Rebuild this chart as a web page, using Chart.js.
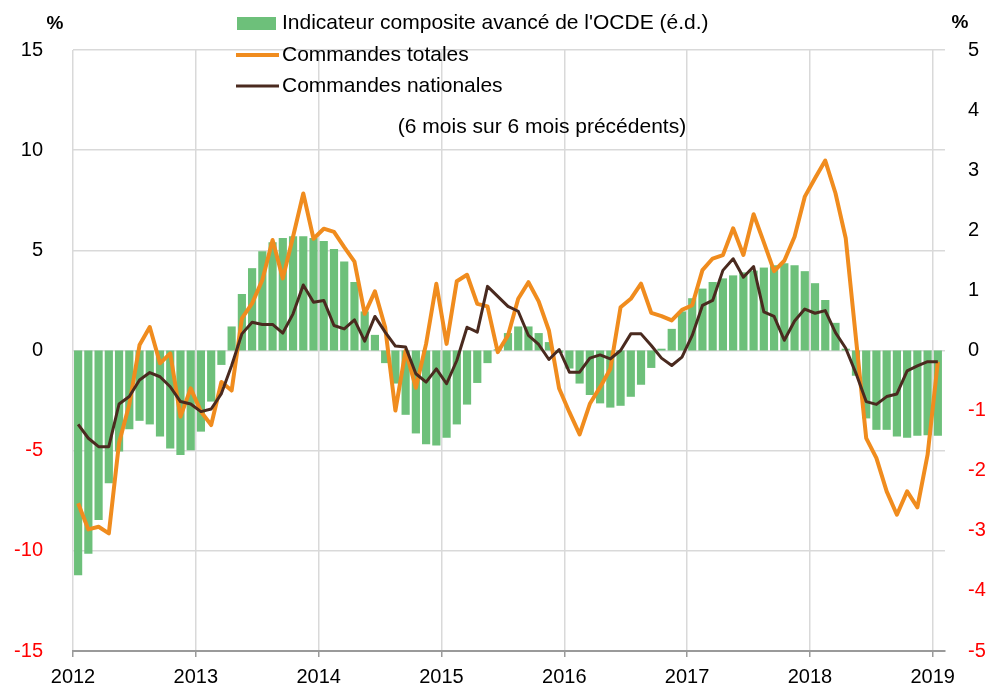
<!DOCTYPE html>
<html>
<head>
<meta charset="utf-8">
<script src="https://cdn.jsdelivr.net/npm/chart.js@4"></script>
<style>
  body { margin: 0; background: #fff; }
  #wrap { width: 989px; height: 695px; }
</style>
</head>
<body>
<div id="wrap"><canvas id="orders-chart" width="989" height="695"></canvas></div>
<script>
// Year labels on the x axis (one tick every 12 months, starting Jan 2012)
const yearLabels = ['2012', '2013', '2014', '2015', '2016', '2017', '2018', '2019'];

// OECD composite leading indicator, right scale (Jan 2012 .. Jan 2019)
const cliValues = [
  -3.74, -3.38, -2.82, -2.21, -1.68, -1.31, -1.17, -1.23, -1.43, -1.63, -1.74, -1.66,
  -1.35, -0.85, -0.24, 0.40, 0.94, 1.37, 1.65, 1.80, 1.87, 1.90, 1.90, 1.87,
  1.82, 1.69, 1.48, 1.14, 0.65, 0.26, -0.21, -0.55, -1.07, -1.38, -1.56, -1.58,
  -1.45, -1.23, -0.90, -0.54, -0.21, 0.02, 0.29, 0.40, 0.40, 0.29, 0.14, -0.04,
  -0.30, -0.55, -0.74, -0.88, -0.95, -0.92, -0.77, -0.57, -0.29, 0.03, 0.36, 0.65,
  0.87, 1.03, 1.14, 1.20, 1.25, 1.30, 1.33, 1.38, 1.42, 1.45, 1.42, 1.32,
  1.12, 0.84, 0.46, 0.03, -0.42, -1.13, -1.32, -1.32, -1.43, -1.45, -1.42, -1.41,
  -1.42
];

// Total orders, left scale
const totalOrders = [
  -7.63, -8.93, -8.80, -9.13, -4.60, -2.70, 0.27, 1.17, -0.64, -0.14, -3.30, -1.89,
  -3.05, -3.72, -1.57, -2.00, 1.60, 2.35, 3.52, 5.52, 3.60, 5.68, 7.84, 5.58,
  6.08, 5.92, 5.16, 4.44, 1.83, 2.95, 1.16, -3.00, 0.00, -1.86, 0.33, 3.33,
  0.33, 3.46, 3.78, 2.33, 2.20, -0.08, 0.75, 2.58, 3.41, 2.45, 1.00, -1.90,
  -3.08, -4.19, -2.66, -1.83, -0.92, 2.16, 2.58, 3.34, 1.88, 1.72, 1.50, 2.03,
  2.26, 4.01, 4.59, 4.76, 6.10, 4.77, 6.80, 5.40, 3.96, 4.48, 5.68, 7.68,
  8.60, 9.48, 7.85, 5.60, 0.60, -4.37, -5.37, -7.03, -8.20, -7.03, -7.83, -5.20,
  -0.56
];

// Domestic orders, left scale
const domesticOrders = [
  -3.69, -4.38, -4.80, -4.80, -2.67, -2.30, -1.47, -1.10, -1.31, -1.81, -2.55, -2.67,
  -3.05, -2.92, -2.15, -0.75, 0.83, 1.41, 1.30, 1.30, 0.87, 1.83, 3.27, 2.41,
  2.50, 1.25, 1.08, 1.53, 0.47, 1.70, 0.92, 0.22, 0.17, -1.16, -1.58, -0.92,
  -1.66, -0.50, 1.16, 0.92, 3.20, 2.70, 2.20, 1.96, 0.75, 0.30, -0.45, 0.05,
  -1.08, -1.08, -0.38, -0.22, -0.42, 0.00, 0.83, 0.83, 0.25, -0.38, -0.75, -0.33,
  0.75, 2.25, 2.50, 4.00, 4.58, 3.66, 4.19, 1.93, 1.70, 0.51, 1.47, 2.07,
  1.86, 1.99, 0.89, 0.11, -1.14, -2.55, -2.69, -2.30, -2.17, -1.02, -0.77, -0.56,
  -0.56
];

const seriesLabels = [
  "Indicateur composite avancé de l'OCDE (é.d.)",
  'Commandes totales',
  'Commandes nationales'
];
const subtitle = '(6 mois sur 6 mois précédents)';

// each month sits in the middle of its slot on a month-count axis
function toPoints(values) {
  return values.map((v, i) => ({ x: i + 0.5, y: v }));
}

const FONT = '"Liberation Sans", Arial, sans-serif';
const redIfNegative = ctx => (ctx.tick.value < 0 ? '#ff0000' : '#000000');

// Legend, units and subtitle drawn by hand, like the original layout
const notesPlugin = {
  id: 'notes',
  afterDraw(chart) {
    const ctx = chart.ctx;
    const rows = [23, 55, 86];
    ctx.save();
    ctx.font = '21px ' + FONT;
    ctx.textBaseline = 'middle';
    chart.data.datasets.forEach((ds, k) => {
      const y = rows[k];
      if (ds.type === 'line') {
        ctx.strokeStyle = ds.borderColor;
        ctx.lineWidth = ds.borderWidth;
        ctx.beginPath();
        ctx.moveTo(236, y);
        ctx.lineTo(279, y);
        ctx.stroke();
      } else {
        ctx.fillStyle = ds.backgroundColor;
        ctx.fillRect(237, y - 6, 39, 13);
      }
      ctx.fillStyle = '#000';
      ctx.textAlign = 'left';
      ctx.fillText(ds.label, 282, y);
    });
    ctx.textAlign = 'center';
    ctx.fillText(subtitle, 542, 127);
    ctx.font = 'bold 19px ' + FONT;
    ctx.fillText('%', 55, 24);
    ctx.fillText('%', 960, 23);
    ctx.restore();
  }
};

function drawChart() {
  const ctx = document.getElementById('orders-chart').getContext('2d');
  new Chart(ctx, {
    type: 'bar',
    data: {
      datasets: [
        {
          type: 'line',
          label: seriesLabels[2],
          data: toPoints(domesticOrders),
          yAxisID: 'y',
          borderColor: '#4a2a1f',
          borderWidth: 3,
          pointRadius: 0,
          tension: 0,
          borderJoinStyle: 'round',
          order: 1
        },
        {
          type: 'line',
          label: seriesLabels[1],
          data: toPoints(totalOrders),
          yAxisID: 'y',
          borderColor: '#f08c1e',
          borderWidth: 4,
          pointRadius: 0,
          tension: 0,
          borderJoinStyle: 'round',
          order: 2
        },
        {
          type: 'bar',
          label: seriesLabels[0],
          data: toPoints(cliValues),
          yAxisID: 'y2',
          backgroundColor: '#6dc07a',
          barPercentage: 0.8,
          categoryPercentage: 1.0,
          order: 3
        }
      ].reverse()
    },
    options: {
      responsive: false,
      animation: false,
      layout: { padding: { top: 50, left: 0, right: 0, bottom: 0 } },
      plugins: {
        legend: { display: false },
        tooltip: { enabled: false }
      },
      scales: {
        x: {
          type: 'linear',
          min: 0,
          max: 85.2,
          bounds: 'data',
          offset: false,
          afterBuildTicks: axis => {
            axis.ticks = yearLabels.map((_, k) => ({ value: k * 12 }));
          },
          afterFit: axis => { axis.height = 44; },
          ticks: {
            callback: (value, index) => yearLabels[index],
            color: '#000',
            font: { family: FONT, size: 20 },
            maxRotation: 0,
            autoSkip: false,
            padding: 8
          },
          grid: {
            color: '#d9d9d9',
            lineWidth: 1.5,
            tickColor: '#9a9a9a',
            tickLength: 6,
            offset: false
          },
          border: { color: '#9a9a9a', width: 2 }
        },
        y: {
          position: 'left',
          min: -15,
          max: 15,
          afterFit: axis => { axis.width = 73; },
          ticks: {
            stepSize: 5,
            color: redIfNegative,
            font: { family: FONT, size: 20 },
            padding: 30
          },
          grid: { color: '#d9d9d9', lineWidth: 1.5, drawTicks: false },
          border: { display: false }
        },
        y2: {
          position: 'right',
          min: -5,
          max: 5,
          afterFit: axis => { axis.width = 44; },
          ticks: {
            stepSize: 1,
            color: redIfNegative,
            font: { family: FONT, size: 20 },
            padding: 23
          },
          grid: { display: false, drawTicks: false },
          border: { display: false }
        }
      }
    },
    plugins: [notesPlugin]
  });
}

document.addEventListener('DOMContentLoaded', function() {
  drawChart();
});
</script>
</body>
</html>
